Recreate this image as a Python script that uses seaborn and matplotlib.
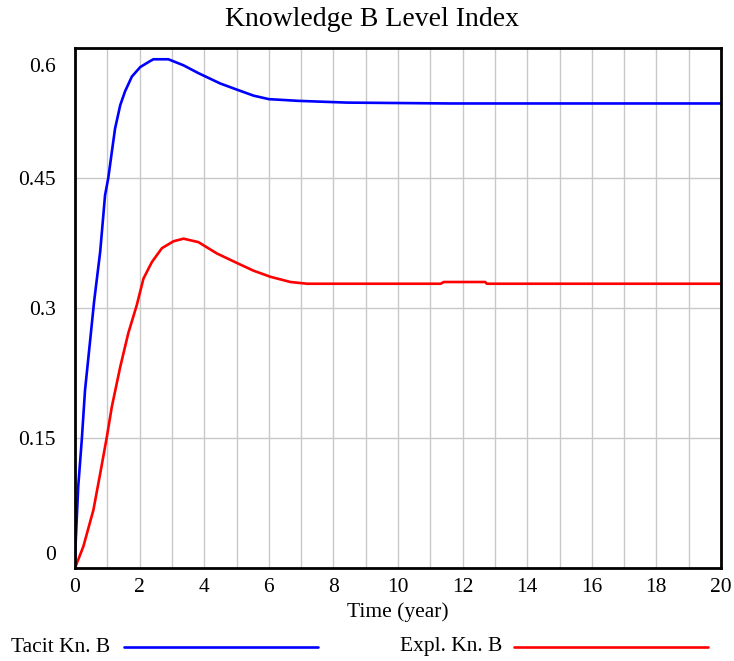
import numpy as np
import pandas as pd
import matplotlib
matplotlib.use("Agg")
import matplotlib.pyplot as plt
import seaborn as sns
from matplotlib.lines import Line2D
from matplotlib.transforms import ScaledTranslation

# values
tacit_time = [0, 0, 0.10, 0.21, 0.31, 0.47, 0.59, 0.78, 0.93, 1.03, 1.14, 1.24,
              1.40, 1.55, 1.76, 2.02, 2.33, 2.43, 2.89, 3.36, 3.82, 4.50, 5.01,
              5.53, 6.00, 6.92, 8.42, 11.6, 20]
tacit_kn = [0, 0.025, 0.094, 0.148, 0.205, 0.263, 0.307, 0.365, 0.430, 0.450,
            0.480, 0.507, 0.534, 0.550, 0.567, 0.578, 0.585, 0.587, 0.587,
            0.580, 0.571, 0.559, 0.552, 0.545, 0.541, 0.539, 0.537, 0.536, 0.536]

expl_time = [0, 0.26, 0.57, 0.78, 0.98, 1.14, 1.40, 1.65, 1.91, 2.12, 2.38,
             2.69, 3.05, 3.36, 3.82, 4.39, 5.01, 5.53, 6.05, 6.67, 7.19, 11.32,
             11.42, 12.70, 12.75, 20]
expl_kn = [0, 0.025, 0.067, 0.109, 0.150, 0.186, 0.232, 0.271, 0.303, 0.334,
           0.353, 0.369, 0.377, 0.380, 0.376, 0.363, 0.352, 0.343, 0.336, 0.330,
           0.328, 0.328, 0.330, 0.330, 0.328, 0.328]

y_ticks = [0, 0.15, 0.3, 0.45, 0.6]
y_labels = ["0", "0.15", "0.3", "0.45", "0.6"]
x_ticks = list(range(0, 21, 2))

sns.set_style("white")
plt.rcParams['font.family'] = ['Liberation Serif', 'DejaVu Serif']
plt.rcParams['text.color'] = 'black'
plt.rcParams['axes.labelcolor'] = 'black'
plt.rcParams['xtick.color'] = 'black'
plt.rcParams['ytick.color'] = 'black'

fig = plt.figure(figsize=(7.34, 6.61), dpi=100)
ax = fig.add_axes([75 / 734, 93 / 661, 646 / 734, 520 / 661])

# grid first, lines on top
ax.set_xticks(np.arange(0, 21, 1), minor=True)
ax.grid(True, which="minor", axis="x", color="#c8c8c8", lw=1)
ax.grid(True, which="major", axis="both", color="#c8c8c8", lw=1)
ax.set_axisbelow(True)

sns.lineplot(x=tacit_time, y=tacit_kn, ax=ax, color="#0000ff", lw=1.9, sort=False)
sns.lineplot(x=expl_time, y=expl_kn, ax=ax, color="#ff0000", lw=1.9, sort=False)

ax.set_xlim(0, 20)
ax.set_ylim(0, 0.6)
ax.set_xticks(x_ticks)
ax.set_xticklabels([str(v) for v in x_ticks])
ax.set_yticks(y_ticks)
ax.set_yticklabels(y_labels)
ax.tick_params(axis="both", which="both", length=0, labelsize=15.5)
ax.tick_params(axis="x", pad=7)
ax.tick_params(axis="y", pad=14)

# keep end labels inside the axis like the original
ylabs = ax.get_yticklabels()
ylabs[0].set_transform(ylabs[0].get_transform() + ScaledTranslation(0, 0.15, fig.dpi_scale_trans))
ylabs[-1].set_transform(ylabs[-1].get_transform() + ScaledTranslation(0, -0.165, fig.dpi_scale_trans))

for s in ax.spines.values():
    s.set_visible(True)
    s.set_color("black")
    s.set_linewidth(2)

ax.set_xlabel("Time (year)", fontsize=15.5, labelpad=4)
ax.set_ylabel("")

fig.text(372 / 734, 1 - 20 / 661, "Knowledge B Level Index", ha="center",
         va="center", fontsize=20)

# legend drawn below as in the reference
fig.text(11 / 734, 1 - 647 / 661, "Tacit Kn. B", ha="left", va="center", fontsize=15.5)
fig.add_artist(Line2D([124 / 734, 318 / 734], [1 - 647 / 661] * 2,
                      color="#0000ff", lw=1.9, transform=fig.transFigure))
fig.text(400 / 734, 1 - 647 / 661, "Expl. Kn. B", ha="left", va="center", fontsize=15.5)
fig.add_artist(Line2D([514 / 734, 708 / 734], [1 - 647 / 661] * 2,
                      color="#ff0000", lw=1.9, transform=fig.transFigure))

fig.savefig("out.png", dpi=100)
